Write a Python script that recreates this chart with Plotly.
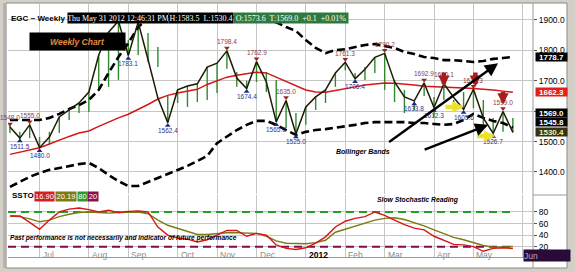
import plotly.graph_objects as go

# ---------------- data ----------------
# weekly bars, index 0 = week of 10 Jun 2011 ... index 51 = week of 1 Jun 2012
zigzag = [1548, 1511.5, 1555, 1480.0, 1515, 1581, 1604, 1627, 1663, 1785,
          1860, 1897, 1783.1, 1893, 1770, 1643, 1562.4, 1670, 1683, 1690,
          1745, 1758, 1798.4, 1709, 1674.4, 1762.9, 1696, 1565.0, 1635.0, 1525.0,
          1614, 1647, 1670, 1726, 1761.3, 1706.4, 1738, 1777, 1790.2, 1696,
          1647, 1633.8, 1692.9, 1612.3, 1690.1, 1645, 1605.6, 1672.3, 1578, 1526.7,
          1599.0, 1530.4]
bar_hi = [1561, 1532, 1555, 1515, 1532, 1581, 1604, 1627, 1663, 1785,
          1860, 1897, 1834, 1893, 1857, 1811, 1650, 1670, 1683, 1693,
          1745, 1758, 1798, 1729, 1700, 1763, 1729, 1703, 1635, 1594,
          1614, 1647, 1670, 1726, 1761, 1726, 1745, 1777, 1790, 1703,
          1670, 1637, 1693, 1647, 1690, 1637, 1663, 1680, 1637, 1578,
          1599, 1578]
bar_lo = [1528, 1505, 1512, 1480, 1489, 1528, 1571, 1594, 1597, 1670,
          1680, 1703, 1783, 1785, 1762, 1745, 1562, 1627, 1614, 1630,
          1637, 1660, 1740, 1680, 1674, 1696, 1663, 1565, 1545, 1525,
          1555, 1604, 1627, 1680, 1735, 1706, 1703, 1726, 1670, 1630,
          1594, 1604, 1650, 1581, 1637, 1610, 1605, 1610, 1555, 1527,
          1532, 1530]
ma_line = [1458, 1465, 1472, 1480, 1492, 1505, 1517, 1528, 1535, 1550,
           1565, 1578, 1590, 1605, 1622, 1640, 1652, 1660, 1665, 1672,
           1688, 1700, 1712, 1718, 1722, 1728, 1726, 1712, 1696, 1682,
           1670, 1663, 1662, 1668, 1675, 1680, 1686, 1690, 1693, 1692,
           1690, 1686, 1682, 1680, 1678, 1676, 1676, 1675, 1673, 1670,
           1666, 1662.3]
bb_upper = [1571, 1571, 1571, 1571, 1578, 1591, 1607, 1620, 1637, 1670,
            1726, 1778, 1824, 1877, 1905, 1912, 1912, 1912, 1911, 1911,
            1910, 1910, 1910, 1909, 1908, 1906, 1902, 1892, 1877, 1864,
            1834, 1808, 1791, 1801, 1804, 1811, 1818, 1821, 1814, 1808,
            1795, 1788, 1778, 1775, 1768, 1768, 1765, 1762, 1765, 1772,
            1775, 1778.7]
bb_lower = [1351, 1367, 1384, 1397, 1407, 1413, 1420, 1426, 1430, 1413,
            1390, 1370, 1354, 1354, 1367, 1380, 1393, 1407, 1420, 1436,
            1453, 1495, 1518, 1538, 1555, 1568, 1568, 1555, 1538, 1522,
            1532, 1538, 1541, 1545, 1551, 1555, 1561, 1564, 1564, 1564,
            1564, 1561, 1561, 1558, 1555, 1558, 1571, 1591, 1578, 1568,
            1561, 1545.8]
ssto_k = [73, 73, 62, 50, 66, 80, 85, 87, 84, 80,
          83, 79, 81, 82, 80, 54, 40, 35, 33, 28,
          32, 40, 48, 48, 38, 43, 40, 23, 17, 15,
          18, 26, 37, 54, 64, 69, 72, 80, 74, 66,
          58, 52, 49, 38, 31, 24, 23, 20, 12, 17,
          18, 16.90]
ssto_d = [73, 72, 68, 63, 66, 72, 76, 79, 80, 79,
          78, 79, 80, 80, 77, 66, 57, 52, 47, 41,
          41, 43, 44, 44, 44, 43, 38, 30, 26, 25,
          25, 27, 31, 45, 50, 55, 61, 66, 69, 70,
          67, 62, 56, 49, 42, 36, 32, 27, 22, 19,
          20, 20.19]
high_idx = [0, 2, 11, 13, 22, 25, 28, 34, 38, 42, 44, 47, 50]
high_hidden = [11, 13]
low_idx = [1, 3, 12, 16, 24, 27, 29, 35, 41, 43, 46, 49]
month_idx = [3, 8, 12, 17, 21, 25, 30, 34, 38, 43, 47]
month_lbl = ["Jul", "Aug", "Sep", "Oct", "Nov", "Dec", "2012", "Feb", "Mar", "Apr", "May"]
next_month_idx = 52
next_month_lbl = "Jun"
price_ticks = [1400, 1500, 1600, 1700, 1800, 1900]
price_ticks_hidden = [1600]        # covered by the value boxes in the reference
ssto_ticks = [20, 40, 60, 80]
ssto_hi_level = 80
ssto_lo_level = 20
sell_arrow_idx = [44.0, 47.2, 50.0]
sell_arrow_tail = [1732, 1732, 1669]
sell_arrow_head = [1680, 1680, 1622]
yellow_idx = [(44.0, 46.0), (47.2, 49.2)]
yellow_price = [1614, 1518]
bb_arrows = [((38.3, 1495), (49.5, 1758)), ((41.9, 1472), (48.5, 1555))]
q_date = "Thu May 31 2012 12:46:31 PM"
q_high, q_low, q_open, q_last, q_chg, q_pct = 1583.5, 1530.4, 1573.6, 1569.0, 0.1, 0.01

# ---------------- geometry ----------------
W, H = 575, 272
X0, X1 = 8, 533           # plot area px
UP_T, UP_B = 4, 194       # upper panel px
LO_T, LO_B = 195, 257     # lower panel px
xr = [-0.2, 53.04]
yr_up = [1327.6, 1952.6]
yr_lo = [2.1, 109.4]

def px(x):
    return x / W

def py(y):
    return 1 - y / H

n = len(zigzag)
xs = list(range(n))
FONT = "Liberation Sans"

fig = go.Figure()

# green weekly range bars
bx, byv = [], []
for i in xs:
    bx += [i, i, None]
    byv += [bar_lo[i], bar_hi[i], None]
fig.add_trace(go.Scatter(x=bx, y=byv, mode="lines", line=dict(color="#2f8a2f", width=1.4),
                         hoverinfo="skip", xaxis="x", yaxis="y"))
# bollinger bands
for band in (bb_upper, bb_lower):
    fig.add_trace(go.Scatter(x=xs, y=band, mode="lines",
                             line=dict(color="black", width=2.6, dash="8px,4px"),
                             hoverinfo="skip", xaxis="x", yaxis="y"))
# moving average
fig.add_trace(go.Scatter(x=xs, y=ma_line, mode="lines", line=dict(color="#d41616", width=1.5),
                         hoverinfo="skip", xaxis="x", yaxis="y"))
# zigzag line
fig.add_trace(go.Scatter(x=xs, y=zigzag, mode="lines", line=dict(color="#1c1c06", width=1.5),
                         hoverinfo="skip", xaxis="x", yaxis="y"))

# pivot triangles
upp = (yr_up[1] - yr_up[0]) / (UP_B - UP_T)   # price units per px
fig.add_trace(go.Scatter(x=high_idx, y=[zigzag[i] + 3 * upp for i in high_idx], mode="markers",
                         marker=dict(symbol="triangle-down", size=5, color="#a02424"),
                         hoverinfo="skip", xaxis="x", yaxis="y"))
fig.add_trace(go.Scatter(x=low_idx, y=[zigzag[i] - 3 * upp for i in low_idx], mode="markers",
                         marker=dict(symbol="triangle-up", size=5, color="#1c2a86"),
                         hoverinfo="skip", xaxis="x", yaxis="y"))

# stochastic
fig.add_trace(go.Scatter(x=[xr[0], n - 1], y=[ssto_hi_level] * 2, mode="lines",
                         line=dict(color="#22a022", width=2, dash="8px,5px"),
                         hoverinfo="skip", xaxis="x2", yaxis="y2"))
fig.add_trace(go.Scatter(x=[xr[0], n - 1], y=[ssto_lo_level] * 2, mode="lines",
                         line=dict(color="#840a4a", width=2, dash="8px,5px"),
                         hoverinfo="skip", xaxis="x2", yaxis="y2"))
fig.add_trace(go.Scatter(x=xs, y=ssto_d, mode="lines", line=dict(color="#7c7a14", width=1.4),
                         hoverinfo="skip", xaxis="x2", yaxis="y2"))
fig.add_trace(go.Scatter(x=xs, y=ssto_k, mode="lines", line=dict(color="#d41616", width=1.4),
                         hoverinfo="skip", xaxis="x2", yaxis="y2"))

ann = []
# pivot labels
for i in high_idx:
    if i in high_hidden:
        continue
    ann.append(dict(x=i, y=zigzag[i], xref="x", yref="y", text=f"{zigzag[i]:.1f}", showarrow=False,
                    yshift=9, font=dict(family=FONT, size=6.5, color="#8a3a4e")))
for i in low_idx:
    ann.append(dict(x=i, y=zigzag[i], xref="x", yref="y", text=f"{zigzag[i]:.1f}", showarrow=False,
                    yshift=-8, font=dict(family=FONT, size=6.5, color="#34348a")))

# sell arrows
for xi, t, h in zip(sell_arrow_idx, sell_arrow_tail, sell_arrow_head):
    ann.append(dict(x=xi, y=h, ax=xi, ay=t, xref="x", yref="y", axref="x", ayref="y",
                    showarrow=True, arrowhead=2, arrowsize=0.5, arrowwidth=4.5, arrowcolor="#a81c1c", text=""))
# yellow arrows
for (a, b), p in zip(yellow_idx, yellow_price):
    ann.append(dict(x=b, y=p, ax=a, ay=p, xref="x", yref="y", axref="x", ayref="y",
                    showarrow=True, arrowhead=2, arrowsize=0.5, arrowwidth=4.5, arrowcolor="#ece228", text=""))
# bollinger annotations
ann.append(dict(x=px(392), y=py(152), xref="paper", yref="paper", showarrow=False,
                text="<b><i>Bollinger Bands</i></b>", font=dict(family=FONT, size=7, color="black")))
for (tx, ty), (hx, hy) in bb_arrows:
    ann.append(dict(x=hx, y=hy, ax=tx, ay=ty, xref="x", yref="y", axref="x", ayref="y",
                    showarrow=True, arrowhead=2, arrowsize=1.1, arrowwidth=2.4, arrowcolor="black", text=""))

# header
ann.append(dict(x=px(9), y=py(12), xref="paper", yref="paper", xanchor="left", showarrow=False,
                text="<b>EGC ~ Weekly</b>", font=dict(family=FONT, size=8, color="black")))
hdr = [(q_date, 67, 100, "black", "white"),
       (f"H:{q_high:.1f}  L:{q_low:.1f}", 168, 64, "black", "white"),
       (f"O:{q_open:.1f}  T:{q_last:.1f}  +{q_chg:.1f}  +{q_pct:.2f}%", 233, 114, "#2f7a3a", "white")]
for txt, x, w, bg, fg in hdr:
    ann.append(dict(x=px(x), y=py(12), xref="paper", yref="paper", xanchor="left", showarrow=False,
                    text=txt, bgcolor=bg, width=w, height=10, borderpad=0,
                    font=dict(family="Liberation Serif", size=8, color=fg)))
ann.append(dict(x=px(29), y=py(31.5), xref="paper", yref="paper", xanchor="left", showarrow=False,
                text="<b><i>Weekly Chart</i></b>", bgcolor="black", width=95, height=17, borderpad=0,
                font=dict(family=FONT, size=8.5, color="#e8883a")))

# right-axis value boxes
vboxes = [(bb_upper[-1], 0, "black", "white"),
          (ma_line[-1], 0, "#e0201c", "white"),
          (q_last, 8, "black", "white"),
          (bb_lower[-1], 6, "black", "white"),
          (q_low, 0, "#33331a", "#eeeeaa")]
for v, sh, bg, fg in vboxes:
    ann.append(dict(x=px(535), y=v, xref="paper", yref="y", xanchor="left", showarrow=False, yshift=sh,
                    text=f"<b>{v:.1f}</b>", bgcolor=bg, width=31, height=8, borderpad=0,
                    font=dict(family=FONT, size=8, color=fg)))

# stochastic texts
ann.append(dict(x=px(10), y=py(202), xref="paper", yref="paper", xanchor="left", showarrow=False,
                text="<b>SSTO</b>", font=dict(family=FONT, size=8, color="black")))
sboxes = [(f"{ssto_k[-1]:.2f}", 34, 19, "#d42020"), (f"{ssto_d[-1]:.2f}", 55, 20, "#7c7a14"),
          (f"{ssto_hi_level}", 77, 9, "#2c9a2c"), (f"{ssto_lo_level}", 87, 10, "#8a1050")]
for txt, x, w, bg in sboxes:
    ann.append(dict(x=px(x), y=py(202), xref="paper", yref="paper", xanchor="left", showarrow=False,
                    text=txt, bgcolor=bg, width=w, height=9, borderpad=0,
                    font=dict(family=FONT, size=7.5, color="white")))
ann.append(dict(x=px(461), y=py(206), xref="paper", yref="paper", showarrow=False,
                text="<b><i>Slow Stochastic Reading</i></b>", font=dict(family=FONT, size=6.8, color="black")))
ann.append(dict(x=px(8), y=py(244), xref="paper", yref="paper", xanchor="left", showarrow=False,
                text="<b><i>Past performance is not necessarily and indicator of future performance</i></b>",
                font=dict(family=FONT, size=6.6, color="black")))

# month labels
for i, lbl in zip(month_idx, month_lbl):
    bold = lbl.isdigit()
    ann.append(dict(x=i, y=py(262), xref="x2", yref="paper", xanchor="left", xshift=1, showarrow=False,
                    text=f"<b>{lbl}</b>" if bold else lbl,
                    font=dict(family=FONT, size=8.5, color="black" if bold else "#8c8c8c")))
ann.append(dict(x=next_month_idx, y=py(262), xref="x2", yref="paper", xanchor="left", showarrow=False,
                text=next_month_lbl, bgcolor="#2a0a36", width=46, height=11, borderpad=0, align="left",
                font=dict(family=FONT, size=8.5, color="#b8a8c0")))

shapes = [
    dict(type="rect", xref="paper", yref="paper", x0=px(6), x1=px(567), y0=py(268), y1=py(3),
         line=dict(color="#8a8a8a", width=1), fillcolor="white", layer="below"),
    dict(type="line", xref="paper", yref="paper", x0=px(X1), x1=px(X1), y0=py(268), y1=py(3),
         line=dict(color="#9a9a9a", width=1)),
    dict(type="line", xref="paper", yref="paper", x0=px(X1), x1=px(567), y0=py(LO_T), y1=py(LO_T),
         line=dict(color="#9a9a9a", width=1)),
    dict(type="line", xref="paper", yref="paper", x0=px(4), x1=px(4), y0=py(268), y1=py(3),
         line=dict(color="#9a9a9a", width=1)),
]

grid = "#c6c6c6"
fig.update_layout(
    width=W, height=H, margin=dict(l=0, r=0, t=0, b=0),
    paper_bgcolor="#d4d0c8", plot_bgcolor="white", showlegend=False,
    annotations=ann, shapes=shapes,
    xaxis=dict(domain=[px(X0), px(X1)], range=xr, anchor="y", showticklabels=False,
               tickvals=month_idx + [next_month_idx], showgrid=True, gridcolor=grid, gridwidth=1,
               zeroline=False, ticks=""),
    xaxis2=dict(domain=[px(X0), px(X1)], range=xr, anchor="y2", showticklabels=False, matches="x",
                tickvals=month_idx + [next_month_idx], showgrid=True, gridcolor=grid, gridwidth=1,
                zeroline=False, ticks="", showline=True, linecolor="#9a9a9a", mirror=False),
    yaxis=dict(domain=[py(UP_B), py(UP_T)], range=yr_up, anchor="x", side="right",
               tickvals=price_ticks,
               ticktext=["" if v in price_ticks_hidden else f"{v:.1f}" for v in price_ticks],
               showgrid=True, gridcolor=grid, zeroline=False, ticks="outside", ticklen=3,
               tickcolor="#555555", tickfont=dict(family=FONT, size=8.5, color="black")),
    yaxis2=dict(domain=[py(LO_B), py(LO_T)], range=yr_lo, anchor="x2", side="right",
                tickvals=ssto_ticks, showgrid=True, gridcolor=grid, zeroline=False,
                ticks="outside", ticklen=3, tickcolor="#555555",
                tickfont=dict(family=FONT, size=8.5, color="black")),
)

fig.write_html("out.html")
